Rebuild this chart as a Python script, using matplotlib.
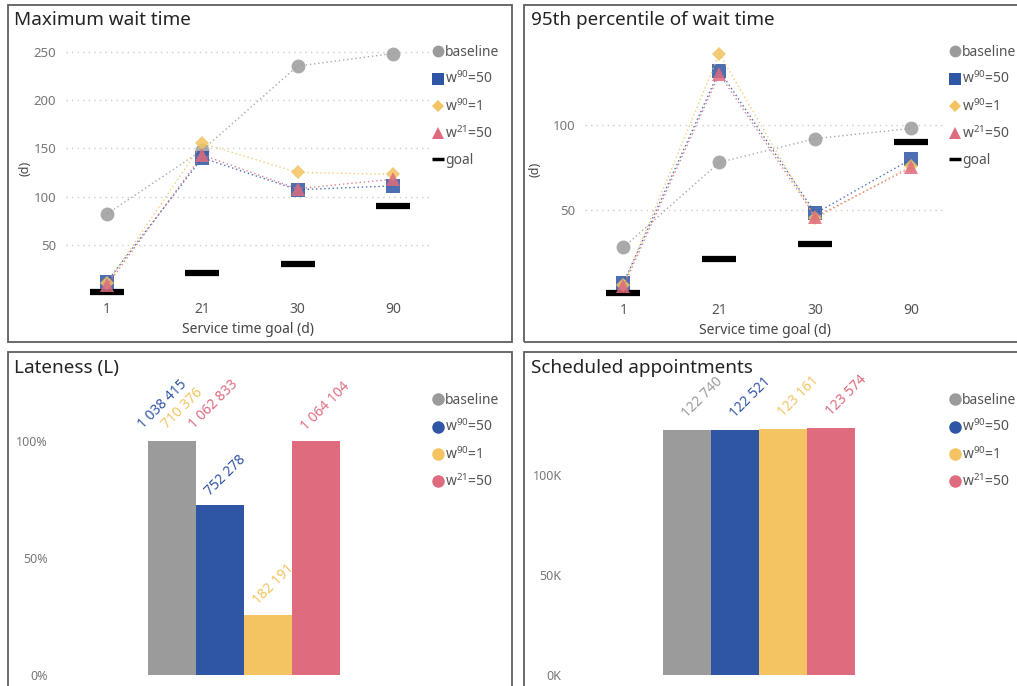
import matplotlib
matplotlib.use("Agg")
import matplotlib.pyplot as plt
from matplotlib.lines import Line2D
from matplotlib.patches import Rectangle

plt.rcParams['font.family'] = ['Noto Sans', 'DejaVu Sans']
plt.rcParams['mathtext.fontset'] = 'custom'
plt.rcParams['mathtext.rm'] = 'Noto Sans'
plt.rcParams['mathtext.it'] = 'Noto Sans'

W, H = 1017, 686

# ---- data ----
goals = ['1', '21', '30', '90']
goal_values = [1, 21, 30, 90]
series_names = ['baseline', 'w$^{90}$=50', 'w$^{90}$=1', 'w$^{21}$=50']
colors = ['#9B9B9B', '#2F55A5', '#F3C461', '#DE6B7E']
markers = ['o', 's', 'D', '^']
marker_sizes = [10, 10, 7.5, 10]

max_wait = [
    [82, 148, 235, 248],   # baseline
    [12, 140, 107, 111],   # w90=50
    [10, 155, 125, 123],   # w90=1
    [8, 143, 108, 118],    # w21=50
]
p95_wait = [
    [28, 78, 92, 98],
    [7, 132, 48, 80],
    [6, 142, 45, 76],
    [5, 130, 46, 75],
]

lateness_pct = [100, 72.4, 25.6, 100]
lateness_labels = ['1 038 415', '752 278', '182 191', '1 064 104']
lateness_extra = ['1 038 415', '710 376', '1 062 833']   # stacked over the baseline bar
extra_colors = ['#2F55A5', '#F3C461', '#DE6B7E']
lateness_label_colors = ['#2F55A5', '#2F55A5', '#F3C461', '#DE6B7E']

appointments = [122740, 122521, 123161, 123574]
appt_labels = ['122 740', '122 521', '123 161', '123 574']


def frect(l, t, r, b):
    return [l / W, 1 - b / H, (r - l) / W, (b - t) / H]


fig = plt.figure(figsize=(W / 100, H / 100), dpi=100)

# panel frames
for (l, t, r, b) in [(8, 5, 512, 342), (524, 5, 1030, 342),
                     (8, 352, 512, 700), (524, 352, 1030, 700)]:
    fig.patches.append(Rectangle((l / W, 1 - b / H), (r - l) / W, (b - t) / H,
                                 transform=fig.transFigure, fill=False,
                                 edgecolor='#5f5f5f', lw=1.3))

titles = [('Maximum wait time', 14, 20), ('95th percentile of wait time', 531, 20),
          ('Lateness (L)', 14, 368), ('Scheduled appointments', 531, 368)]
for txt, x, y in titles:
    fig.text(x / W, 1 - y / H, txt, fontsize=13.6, color='#252423', va='center', ha='left')


def style_axis(ax):
    for s in ax.spines.values():
        s.set_visible(False)
    ax.tick_params(length=0, colors='#777777', labelsize=9.5)


def add_legend(handles, labels, leg_x, top_y):
    leg = fig.legend(handles, labels, loc='upper left',
                     bbox_to_anchor=(leg_x / W, 1 - top_y / H), frameon=False,
                     fontsize=10, handlelength=0.8, handletextpad=0.15,
                     labelspacing=0.78, borderaxespad=0, borderpad=0)
    for t in leg.get_texts():
        t.set_color('#555555')


def line_panel(ax, data, yticks, ylim, xlim, leg_x):
    style_axis(ax)
    x = range(len(goals))
    for vals, c, m, ms in zip(data, colors, markers, marker_sizes):
        ax.plot(x, vals, linestyle=(0, (1, 2)), lw=1, color=c, alpha=0.85,
                marker=m, markersize=ms, markeredgewidth=0, zorder=3)
    ax.plot(x, goal_values, linestyle='none', marker='_', markersize=25,
            markeredgewidth=4.5, color='black', zorder=2)
    ax.set_xticks(list(x))
    ax.set_xticklabels(goals, fontsize=10, color='#555555')
    ax.set_yticks(yticks)
    ax.set_ylim(*ylim)
    ax.set_xlim(*xlim)
    ax.grid(axis='y', linestyle=(0, (1, 3)), color='#cccccc', lw=1)
    ax.set_axisbelow(True)
    ax.tick_params(axis='y', pad=7)
    ax.set_xlabel('Service time goal (d)', fontsize=10, color='#444444', labelpad=4)
    ax.set_ylabel('(d)', fontsize=9, color='#444444')
    handles = [Line2D([], [], linestyle='none', marker=m, color=c, markersize=ms * 0.85,
                      markeredgewidth=0) for m, c, ms in zip(markers, colors, marker_sizes)]
    handles.append(Line2D([], [], linestyle='none', marker='_', color='black',
                          markersize=8, markeredgewidth=2.5))
    add_legend(handles, series_names + ['goal'], leg_x, 45)


ax1 = fig.add_axes(frect(66, 40, 430, 297))
line_panel(ax1, max_wait, [50, 100, 150, 200, 250], (-4, 262), (-0.43, 3.39), 432)
ax1.yaxis.set_label_coords(-0.095, 0.5)

ax2 = fig.add_axes(frect(585, 40, 945, 298))
line_panel(ax2, p95_wait, [50, 100], (-1.8, 150), (-0.40, 3.35), 949)
ax2.yaxis.set_label_coords(-0.12, 0.5)


def bar_panel(ax, vals, ylim, xlim, leg_x, pad):
    style_axis(ax)
    x = range(len(vals))
    ax.bar(x, vals, width=1.0, color=colors)
    ax.set_xlim(*xlim)
    ax.set_ylim(*ylim)
    ax.set_xticks([])
    ax.tick_params(axis='y', pad=pad, labelsize=9)
    handles = [Line2D([], [], linestyle='none', marker='o', color=c, markersize=9,
                      markeredgewidth=0) for c in colors]
    add_legend(handles, series_names, leg_x, 393)


ax3 = fig.add_axes(frect(55, 380, 430, 686))
bar_panel(ax3, lateness_pct, (-4.7, 126), (-2.44, 5.375), 432, 5)
ax3.set_yticks([0, 50, 100])
ax3.set_yticklabels(['0%', '50%', '100%'])
for i in range(1, len(lateness_pct)):
    ax3.annotate(lateness_labels[i], (i, lateness_pct[i]), xytext=(-7, 7),
                 textcoords='offset pixels', rotation=45, rotation_mode='anchor',
                 ha='left', va='bottom', fontsize=10, color=lateness_label_colors[i])
for txt, c, dx in zip(lateness_extra, extra_colors, [-26, -2, 25]):
    ax3.annotate(txt, (0, lateness_pct[0]), xytext=(dx, 9),
                 textcoords='offset pixels', rotation=45, rotation_mode='anchor',
                 ha='left', va='bottom', fontsize=10, color=c)

ax4 = fig.add_axes(frect(570, 380, 950, 686))
bar_panel(ax4, appointments, (-5500, 147500), (-2.44, 5.48), 949, 6)
ax4.set_yticks([0, 50000, 100000])
ax4.set_yticklabels(['0K', '50K', '100K'])
for i, v in enumerate(appointments):
    ax4.annotate(appt_labels[i], (i, v), xytext=(3, 9),
                 textcoords='offset pixels', rotation=45, rotation_mode='anchor',
                 ha='left', va='bottom', fontsize=10, color=colors[i])

fig.savefig('out.png', dpi=100)
